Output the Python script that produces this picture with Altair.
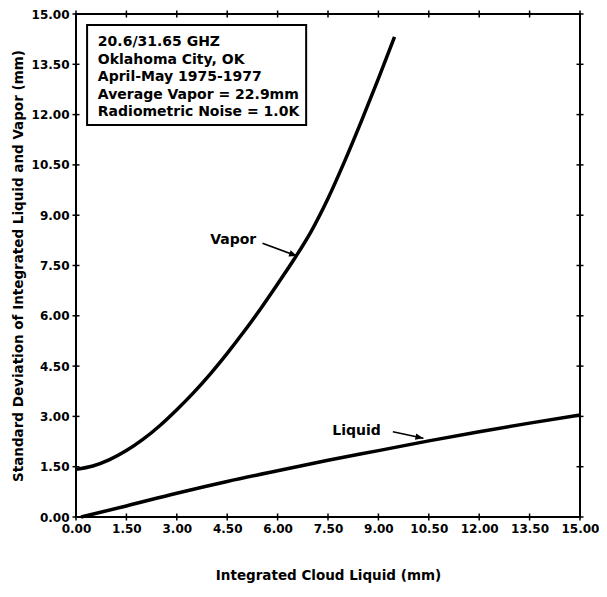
import altair as alt
import pandas as pd

# ---- data ----
ticks = [0.0, 1.5, 3.0, 4.5, 6.0, 7.5, 9.0, 10.5, 12.0, 13.5, 15.0]

vapor_x = [0.0, 0.5, 1.0, 1.5, 2.0, 2.5, 3.0, 3.5, 4.0, 4.5, 5.0, 5.5, 6.0, 6.5, 7.0, 7.5, 8.0, 8.5, 9.0, 9.48]
vapor_y = [1.42, 1.52, 1.71, 1.98, 2.32, 2.73, 3.2, 3.71, 4.27, 4.88, 5.53, 6.22, 6.95, 7.7, 8.52, 9.5, 10.62, 11.82, 13.07, 14.32]

liquid_x = [0.15, 1.5, 3.0, 4.5, 6.0, 7.5, 9.0, 10.5, 12.0, 13.5, 15.0]
liquid_y = [0.0, 0.33, 0.71, 1.06, 1.38, 1.69, 1.98, 2.27, 2.54, 2.8, 3.04]

box_lines = ["20.6/31.65 GHZ", "Oklahoma City, OK", "April-May 1975-1977",
             "Average Vapor = 22.9mm", "Radiometric Noise = 1.0K"]

label_text = ["Vapor", "Liquid"]
label_x = [4.68, 8.35]
label_y = [8.14, 2.44]

arrow_x0 = [5.55, 9.43]
arrow_y0 = [8.16, 2.54]
arrow_x1 = [6.58, 10.34]
arrow_y1 = [7.78, 2.35]
arrow_angle = [20, 12]

box_x = [0.33, 6.85]
box_y = [11.69, 14.67]
box_text_x = 0.65
box_text_y = 14.04

x_title = "Integrated Cloud Liquid (mm)"
y_title = "Standard Deviation of Integrated Liquid and Vapor (mm)"

FONT = "DejaVu Sans"

curves = pd.concat([
    pd.DataFrame({"x": vapor_x, "y": vapor_y, "series": "Vapor"}),
    pd.DataFrame({"x": liquid_x, "y": liquid_y, "series": "Liquid"}),
])
tick_df = pd.DataFrame({"t": ticks})
labels_df = pd.DataFrame({"x": label_x, "y": label_y, "text": label_text})
arrows_df = pd.DataFrame({"x": arrow_x0, "y": arrow_y0, "x2": arrow_x1, "y2": arrow_y1, "angle": arrow_angle})
one = pd.DataFrame({"a": [0]})

xs = alt.Scale(domain=[0, 15], nice=False, zero=False)
ys = alt.Scale(domain=[0, 15], nice=False, zero=False)

ax_x = alt.Axis(values=ticks, format=".2f", ticks=False, domain=False, grid=False,
                labelFlush=False, labelOverlap=False,
                labelPadding=6, titlePadding=34, title=x_title)
ax_y = alt.Axis(values=ticks, format=".2f", ticks=False, domain=False, grid=False,
                labelFlush=False, labelOverlap=False,
                labelPadding=7, titlePadding=6, title=y_title)


def X(field):
    return alt.X(field, scale=xs, axis=ax_x, title=x_title)


def Y(field):
    return alt.Y(field, scale=ys, axis=ax_y, title=y_title)


def XD(v):
    return alt.XDatum(v, scale=xs, axis=ax_x, title=x_title)


def YD(v):
    return alt.YDatum(v, scale=ys, axis=ax_y, title=y_title)


lines = alt.Chart(curves).mark_line(color="black", strokeWidth=3.5, interpolate="monotone").encode(
    x=X("x:Q"), y=Y("y:Q"), detail="series:N",
)


def hticks(pos):
    return alt.Chart(tick_df).mark_rule(color="black", strokeWidth=1.5, yOffset=-3.5, y2Offset=3.5).encode(
        x=X("t:Q"), y=YD(pos), y2=alt.Y2Datum(pos),
    )


def vticks(pos):
    return alt.Chart(tick_df).mark_rule(color="black", strokeWidth=1.5, xOffset=-3.5, x2Offset=3.5).encode(
        y=Y("t:Q"), x=XD(pos), x2=alt.X2Datum(pos),
    )


box = alt.Chart(one).mark_rect(fill="white", stroke="black", strokeWidth=2).encode(
    x=XD(box_x[0]), x2=alt.X2Datum(box_x[1]),
    y=YD(box_y[0]), y2=alt.Y2Datum(box_y[1]),
)

box_txt = alt.Chart(one).mark_text(
    text=box_lines, align="left", baseline="alphabetic", lineHeight=17.5,
    font=FONT, fontWeight="bold", fontSize=14, color="black",
).encode(x=XD(box_text_x), y=YD(box_text_y))

lbls = alt.Chart(labels_df).mark_text(
    align="center", baseline="alphabetic", font=FONT, fontWeight="bold", fontSize=14, color="black",
).encode(x=X("x:Q"), y=Y("y:Q"), text="text:N")

arrow_lines = alt.Chart(arrows_df).mark_rule(color="black", strokeWidth=1.6).encode(
    x=X("x:Q"), y=Y("y:Q"), x2="x2:Q", y2="y2:Q",
)

arrow_heads = alt.Chart(arrows_df).mark_point(
    shape="M0,0 L-2,-0.8 L-2,0.8 Z", filled=True, color="black", size=64, opacity=1,
).encode(
    x=X("x2:Q"), y=Y("y2:Q"), angle=alt.Angle("angle:Q", scale=None),
)

chart = alt.layer(
    lines, hticks(0), hticks(15), vticks(0), vticks(15),
    box, box_txt, lbls, arrow_lines, arrow_heads,
).properties(
    width=504, height=503,
    autosize=alt.AutoSizeParams(type="none"),
    padding={"left": 68, "top": 6, "right": 19, "bottom": 72},
).configure_view(
    stroke="black", strokeWidth=2,
).configure_axis(
    labelFont=FONT, labelFontWeight="bold", labelFontSize=12, labelColor="black",
    titleFont=FONT, titleFontWeight="bold", titleFontSize=13.5, titleColor="black",
)

chart.save("out.html", embed_options={"renderer": "svg", "actions": False})
